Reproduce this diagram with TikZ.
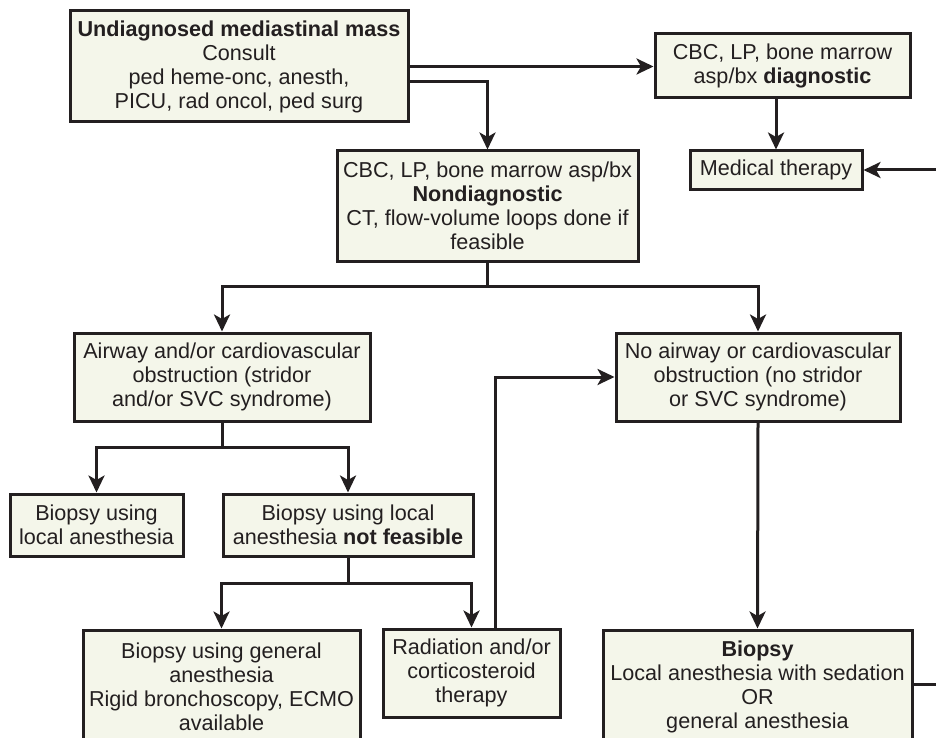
\documentclass[tikz,border=0pt]{standalone}
\usepackage{fontspec}
\setmainfont{Liberation Sans}
\usetikzlibrary{arrows.meta}
\definecolor{boxfill}{HTML}{F4F6EA}
\definecolor{ink}{HTML}{231F20}
\tikzset{
  box/.style={draw=ink, fill=boxfill, line width=3pt, align=center, text=ink,
    inner sep=2pt, font=\fontsize{21.6}{24}\selectfont},
  conn/.style={draw=ink, line width=3pt},
  arr/.style={conn, -{Stealth[length=17pt,width=16pt,inset=4.5pt]}}
}
\begin{document}
\begin{tikzpicture}[x=1pt,y=-1pt]
\clip (0,0) rectangle (936,738);
\fill[white] (0,0) rectangle (936,738);

\node[box, minimum width=338, minimum height=111] (top) at (239,66.5)
  {\textbf{Undiagnosed mediastinal mass}\\Consult\\ped heme-onc, anesth,\\PICU, rad oncol, ped surg};
\node[box, minimum width=255, minimum height=64] (diag) at (782.5,66)
  {CBC, LP, bone marrow\\asp/bx \textbf{diagnostic}};
\node[box, minimum width=172, minimum height=38] (med) at (776,170)
  {Medical therapy};
\node[box, minimum width=301, minimum height=110] (nond) at (487.5,206)
  {CBC, LP, bone marrow asp/bx\\\textbf{Nondiagnostic}\\CT, flow-volume loops done if\\feasible};
\node[box, minimum width=296, minimum height=88] (air) at (222,377)
  {Airway and/or cardiovascular\\obstruction (stridor\\and/or SVC syndrome)};
\node[box, minimum width=284, minimum height=88] (noair) at (758,377)
  {No airway or cardiovascular\\obstruction (no stridor\\or SVC syndrome)};
\node[box, minimum width=173, minimum height=62] (bloc) at (96.5,525)
  {Biopsy using\\local anesthesia};
\node[box, minimum width=250, minimum height=62] (bnf) at (348,525)
  {Biopsy using local\\anesthesia \textbf{not feasible}};
\node[box, minimum width=277, minimum height=114] (bgen) at (221.5,687)
  {Biopsy using general\\anesthesia\\Rigid bronchoscopy, ECMO\\available};
\node[box, minimum width=177, minimum height=88] (rad) at (471.5,673)
  {Radiation and/or\\corticosteroid\\therapy};
\node[box, minimum width=309, minimum height=114] (bio) at (757.5,687)
  {\textbf{Biopsy}\\Local anesthesia with sedation\\OR\\general anesthesia};

\coordinate (b1) at (487.5,286);
\coordinate (b2) at (222,447);
\coordinate (b3) at (348,583);
\coordinate (rc) at (940,684);
\coordinate (tl) at (0,82);

\draw[arr] (top.east) -- (top.east -| diag.west);
\draw[arr] (top.east |- tl) -| (nond.north);
\draw[arr] (diag.south -| med.north) -- (med.north);
\draw[arr] (bio.east |- rc) -- (rc) |- (med.east);

\draw[conn] (nond.south) -- (b1);
\draw[arr] (b1) -| (air.north);
\draw[arr] (b1) -| (noair.north);

\draw[conn] (air.south) -- (b2);
\draw[arr] (b2) -| (bloc.north);
\draw[arr] (b2) -| (bnf.north);

\draw[conn] (bnf.south) -- (b3);
\draw[arr] (b3) -| (bgen.north);
\draw[arr] (b3) -| (rad.north);

\draw[arr] ([xshift=23.5pt]rad.north) |- (noair.west);
\draw[arr] (noair.south) -- (bio.north);
\end{tikzpicture}
\end{document}
